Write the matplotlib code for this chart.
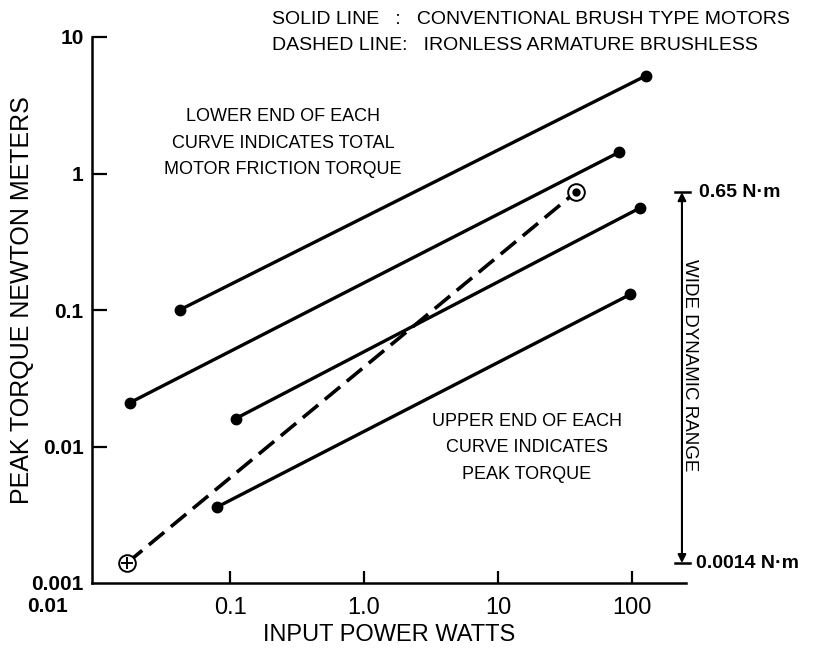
import matplotlib
matplotlib.use("Agg")
import matplotlib.pyplot as plt
from matplotlib import font_manager

# solid lines: conventional brush type motors (lower end, upper end)
solid_x = [[0.042, 127], [0.018, 80], [0.11, 115], [0.08, 97]]
solid_y = [[0.10, 5.2], [0.021, 1.43], [0.016, 0.56], [0.0036, 0.13]]

# dashed line: ironless armature brushless
dash_x = [0.017, 38]
dash_y = [0.0014, 0.73]

yticks = [0.001, 0.01, 0.1, 1, 10]
ytick_labels = ["0.001", "0.01", "0.1", "1", "10"]
xticks = [0.1, 1, 10, 100]
xtick_labels = ["0.1", "1.0", "10", "100"]

range_labels = ["0.65 N\u00b7m", "0.0014 N\u00b7m"]

names = {f.name for f in font_manager.fontManager.ttflist}
narrow = "Liberation Sans Narrow" if "Liberation Sans Narrow" in names else "Liberation Sans"
bold = "Liberation Sans"

fig = plt.figure(figsize=(8.2, 6.51), dpi=100)
ax = fig.add_axes([92/820, 1-583/651, (686-92)/820, (583-37)/651])
ax.set_xscale("log")
ax.set_yscale("log")
ax.set_xlim(0.00933, 253)
ax.set_ylim(0.001, 10)

for xs, ys in zip(solid_x, solid_y):
    ax.plot(xs, ys, color="black", lw=2.4, solid_capstyle="round")
    ax.plot(xs, ys, "o", color="black", ms=7.5)

ax.plot(dash_x, dash_y, color="black", lw=2.6, dashes=(5.5, 2.4))
# open circles at dashed line ends
ax.plot(dash_x, dash_y, "o", mfc="white", mec="black", mew=1.4, ms=12)
ax.plot(dash_x[0], dash_y[0], "+", color="black", ms=9, mew=1.4)
ax.plot(dash_x[1], dash_y[1], "o", color="black", ms=5)

for s in ["top", "right"]:
    ax.spines[s].set_visible(False)
for s in ["left", "bottom"]:
    ax.spines[s].set_linewidth(1.8)

ax.minorticks_off()
ax.set_yticks(yticks)
ax.set_yticklabels(ytick_labels, fontfamily=bold, fontweight="bold", fontsize=15)
ax.set_xticks(xticks)
ax.set_xticklabels(xtick_labels, fontfamily=narrow, fontsize=17)
ax.tick_params(axis="y", direction="in", length=11, width=1.6, pad=6)
ax.tick_params(axis="x", direction="in", length=9, width=1.6, pad=10)
ax.yaxis.get_major_ticks()[0].tick1line.set_visible(False)

ax.text(-0.075, -0.025, "0.01", transform=ax.transAxes, ha="center", va="top",
        fontfamily=bold, fontweight="bold", fontsize=15)

ax.set_xlabel("INPUT POWER WATTS", fontfamily=narrow, fontsize=17, labelpad=4)
fig.text(22/820, 1-300/651, "PEAK TORQUE NEWTON METERS", rotation=90, ha="center",
         va="center", fontfamily=narrow, fontsize=18)

fig.text(272/820, 1-19/651, "SOLID LINE   :   CONVENTIONAL BRUSH TYPE MOTORS",
         ha="left", va="center", fontfamily=narrow, fontsize=14)
fig.text(272/820, 1-45/651, "DASHED LINE:   IRONLESS ARMATURE BRUSHLESS",
         ha="left", va="center", fontfamily=narrow, fontsize=14)

fig.text(283/820, 1-143/651, "LOWER END OF EACH\nCURVE INDICATES TOTAL\nMOTOR FRICTION TORQUE",
         ha="center", va="center", fontfamily=narrow, fontsize=13, linespacing=1.75)
fig.text(527/820, 1-448/651, "UPPER END OF EACH\nCURVE INDICATES\nPEAK TORQUE",
         ha="center", va="center", fontfamily=narrow, fontsize=13, linespacing=1.75)

# wide dynamic range marker, spanning the dashed curve
rx = 236
top, bot = dash_y[1], dash_y[0]
ax.annotate("", xy=(rx, top), xytext=(rx, bot),
            arrowprops=dict(arrowstyle="<|-|>", color="black", lw=1.5,
                            mutation_scale=12, shrinkA=0, shrinkB=0),
            annotation_clip=False)
for v in [top, bot]:
    ax.plot([rx*0.88, rx*1.14], [v, v], color="black", lw=1.8, clip_on=False)
ax.text(rx*1.35, top, range_labels[0], ha="left", va="center",
        fontfamily=bold, fontweight="bold", fontsize=14)
ax.text(rx*1.27, bot, range_labels[1], ha="left", va="center",
        fontfamily=bold, fontweight="bold", fontsize=14)
ax.text(rx*1.13, 0.0395, "WIDE DYNAMIC RANGE", rotation=-90, ha="center", va="center",
        fontfamily=narrow, fontsize=13.5)

fig.savefig("out.png", dpi=100)
